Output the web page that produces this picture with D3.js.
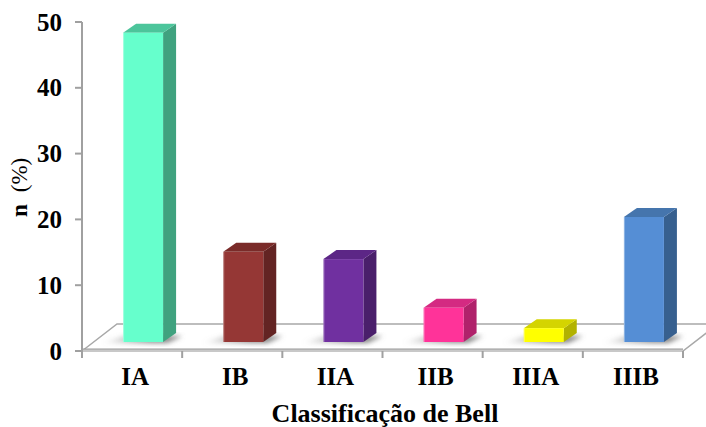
<!DOCTYPE html>
<html>
<head>
<meta charset="utf-8">
<script src="https://cdn.jsdelivr.net/npm/d3@7/dist/d3.min.js"></script>
<style>
  html, body { margin: 0; padding: 0; background: #fff; }
  svg { display: block; }
</style>
</head>
<body>
<svg id="chart" width="706" height="427"></svg>
<script>
// Bell classification distribution (%)
const categories = ["IA", "IB", "IIA", "IIB", "IIIA", "IIIB"];
const values = [47.0, 13.7, 12.6, 5.2, 2.1, 19.0];
const yTicks = [0, 10, 20, 30, 40, 50];
const frontColors = ["#66FFCC", "#953735", "#7030A0", "#FF3399", "#FFFF00", "#558ED5"];
const sideColors  = ["#40A27F", "#632423", "#4A1F6B", "#B0226B", "#B2B200", "#37608F"];
const topColors   = ["#4CC59B", "#7A2B29", "#5C2686", "#D42A82", "#D4D400", "#4575AD"];
const xTitle = "Classificação de Bell";

const SERIF = "'Liberation Serif', 'Times New Roman', Times, 'DejaVu Serif', serif";

const svg = d3.select("#chart");

const x = d3.scaleBand().domain(categories).range([82, 683]).paddingInner(0).paddingOuter(0);
const y = d3.scaleLinear().domain([0, 50]).range([351, 22]);

// 3-D projection offsets
const floorDepth = { dx: 35, dy: -27 };
const barFront = { dx: 11, dy: -9 };
const barDepth = { dx: 13, dy: -9 };
const barW = 40;

const defs = svg.append("defs");
defs.append("filter").attr("id", "soft").attr("x", "-50%").attr("y", "-50%").attr("width", "200%").attr("height", "200%")
  .append("feGaussianBlur").attr("stdDeviation", 2.5);
const shadowGrad = defs.append("linearGradient").attr("id", "shadowGrad").attr("x1", "0").attr("x2", "1");
shadowGrad.append("stop").attr("offset", "0").attr("stop-color", "#888").attr("stop-opacity", 0);
shadowGrad.append("stop").attr("offset", "0.6").attr("stop-color", "#777").attr("stop-opacity", 0.85);
shadowGrad.append("stop").attr("offset", "1").attr("stop-color", "#777").attr("stop-opacity", 0.95);

// Floor
const x0 = x.range()[0], x1 = x.range()[1], yb = y(0);
const floorPts = [[x0, yb], [x0 + floorDepth.dx, yb + floorDepth.dy], [x1 + floorDepth.dx, yb + floorDepth.dy], [x1, yb]];
svg.append("polygon")
  .attr("points", floorPts.map(p => p.join(",")).join(" "))
  .attr("fill", "#fff").attr("stroke", "#a8a8a8").attr("stroke-width", 1.5);
// floor slab front edge
svg.append("rect").attr("x", x0).attr("y", yb - 2).attr("width", x1 - x0).attr("height", 3).attr("fill", "#c8c8c8");
svg.append("line").attr("x1", x0).attr("x2", x1).attr("y1", yb - 2).attr("y2", yb - 2).attr("stroke", "#9a9a9a").attr("stroke-width", 1.2);

// Y axis
svg.append("line").attr("x1", x0).attr("x2", x0).attr("y1", y(50)).attr("y2", yb + 1)
  .attr("stroke", "#a0a0a0").attr("stroke-width", 2);
const yAxis = svg.append("g");
yTicks.forEach(t => {
  yAxis.append("line").attr("x1", x0 - 7).attr("x2", x0).attr("y1", y(t)).attr("y2", y(t))
    .attr("stroke", "#a0a0a0").attr("stroke-width", 2);
  yAxis.append("text").attr("x", 62).attr("y", y(t)).attr("dy", "0.34em")
    .attr("font-family", SERIF)
    .attr("text-anchor", "end").attr("font-size", 25).attr("font-weight", "bold").text(t);
});

// X axis ticks at category boundaries
const bounds = categories.map(c => x(c)).concat([x1]);
bounds.forEach(b => {
  svg.append("line").attr("x1", b).attr("x2", b).attr("y1", yb).attr("y2", yb + 7)
    .attr("stroke", "#a0a0a0").attr("stroke-width", 2);
});

// Bars
const bars = svg.append("g");
categories.forEach((c, i) => {
  const cx = x(c) + x.bandwidth() / 2 + barFront.dx;
  const l = cx - barW / 2, r = cx + barW / 2;
  const bot = y(0) + barFront.dy, top = y(values[i]) + barFront.dy;
  const dx = barDepth.dx, dy = barDepth.dy;

  // soft shadow at the base
  bars.append("polygon")
    .attr("points", [[l - 22, bot + 1], [r + 4, bot + 1], [r + dx + 6, bot + dy + 3], [l + 2, bot + dy + 3]].map(p => p.join(",")).join(" "))
    .attr("fill", "url(#shadowGrad)").attr("filter", "url(#soft)");

  // side face
  bars.append("polygon")
    .attr("points", [[r, bot], [r, top], [r + dx, top + dy], [r + dx, bot + dy]].map(p => p.join(",")).join(" "))
    .attr("fill", sideColors[i]);
  // top face
  bars.append("polygon")
    .attr("points", [[l, top], [r, top], [r + dx, top + dy], [l + dx, top + dy]].map(p => p.join(",")).join(" "))
    .attr("fill", topColors[i]);
  // front face
  bars.append("rect").attr("x", l).attr("y", top).attr("width", barW).attr("height", bot - top)
    .attr("fill", frontColors[i]);
  // light edge on front face
  bars.append("line").attr("x1", l + 0.5).attr("x2", l + 0.5).attr("y1", top).attr("y2", bot)
    .attr("stroke", "#fff").attr("stroke-opacity", 0.35).attr("stroke-width", 1);
});

// Category labels
categories.forEach(c => {
  svg.append("text").attr("x", x(c) + x.bandwidth() / 2 + 3).attr("y", 385)
    .attr("font-family", SERIF)
    .attr("text-anchor", "middle").attr("font-size", 25).attr("font-weight", "bold").text(c);
});

// Axis titles
svg.append("text").attr("x", 385).attr("y", 422).attr("text-anchor", "middle")
  .attr("font-family", SERIF)
  .attr("font-size", 26).attr("font-weight", "bold").text(xTitle);

const yTitle = svg.append("text").attr("transform", "translate(27,217) rotate(-90)")
  .attr("font-family", SERIF)
  .attr("text-anchor", "start").attr("font-size", 23);
yTitle.append("tspan").attr("font-weight", "bold").text("n");
yTitle.append("tspan").attr("dx", 12).text("(%)");
</script>
</body>
</html>
